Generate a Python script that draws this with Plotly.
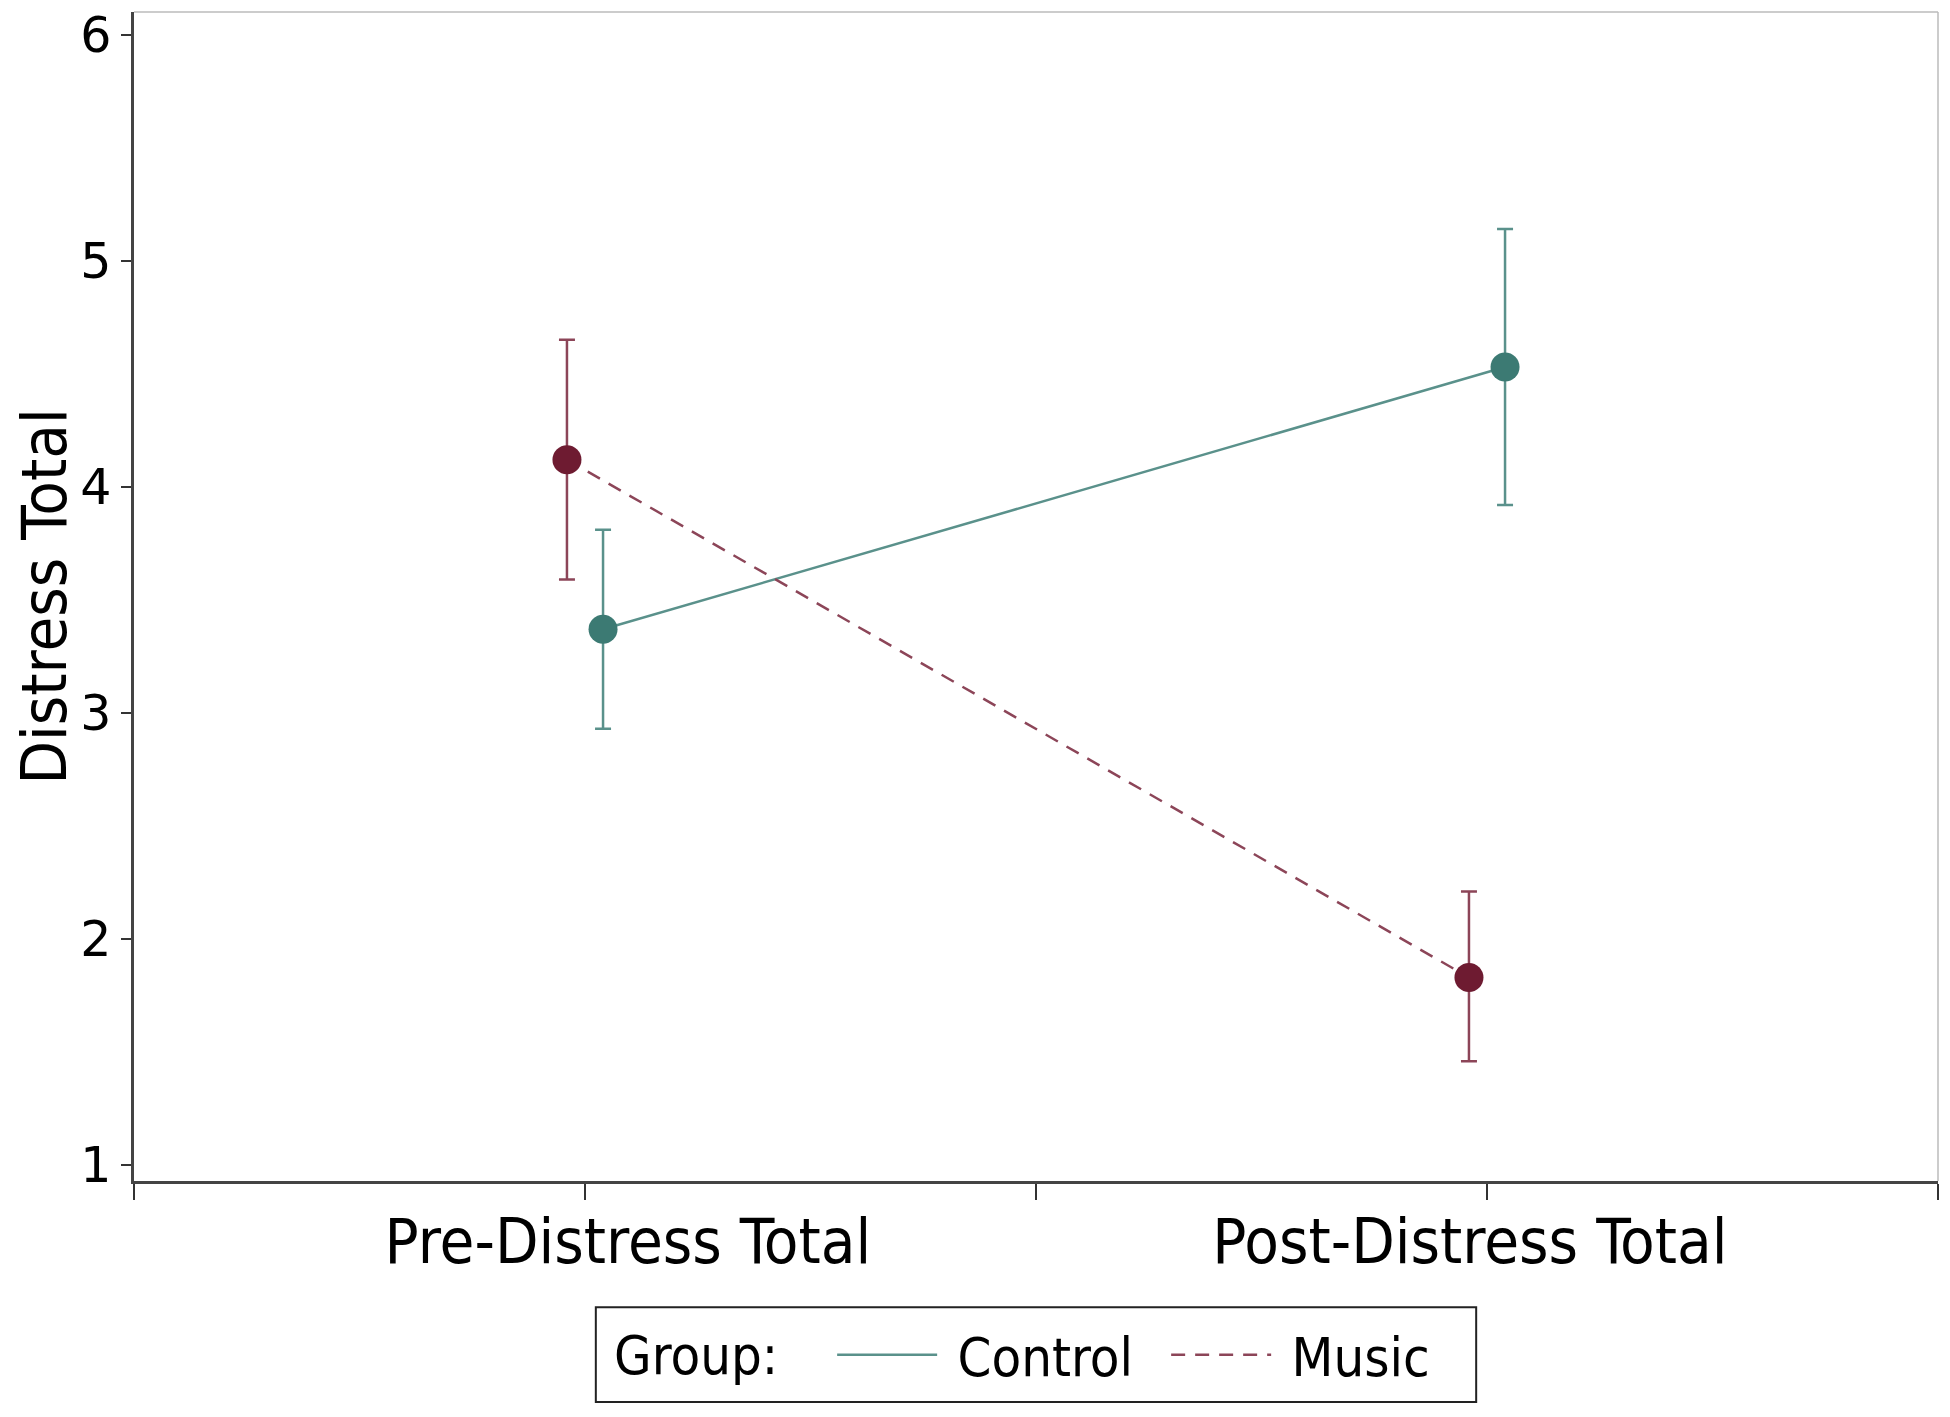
import plotly.graph_objects as go

# moyennes et intervalles de confiance
time_points = ["Pre-Distress Total", "Post-Distress Total"]
control_mean = [3.37, 4.53]
control_upper = [3.81, 5.14]
control_lower = [2.93, 3.92]
music_mean = [4.12, 1.83]
music_upper = [4.65, 2.21]
music_lower = [3.59, 1.46]

y_ticks = [1, 2, 3, 4, 5, 6]

TEAL = "#3c7a73"
TEAL_LIGHT = "#5a918b"
MAROON = "#6e1b31"
MAROON_LIGHT = "#8c4558"
TEXT_FONT = "Liberation Sans Narrow, DejaVu Sans Condensed, sans-serif"

# positions : catégories à 1 et 3, légère séparation entre groupes
base_x = [1 + 2 * i for i in range(len(time_points))]
offset = 0.04


def add_group(fig, name, mean, upper, lower, shift, color, bar_color, dash):
    xs = [b + shift for b in base_x]
    # ligne (seule dans la légende)
    fig.add_trace(go.Scatter(x=xs, y=mean, mode="lines", name=" " + name,
                             line=dict(color=bar_color, width=2.5, dash=dash)))
    # points + barres d'erreur
    fig.add_trace(go.Scatter(
        x=xs, y=mean, mode="markers", showlegend=False,
        marker=dict(color=color, size=29),
        error_y=dict(type="data", symmetric=False,
                     array=[u - m for u, m in zip(upper, mean)],
                     arrayminus=[m - l for m, l in zip(mean, lower)],
                     color=bar_color, thickness=2.5, width=8)))


fig = go.Figure()
add_group(fig, "Control", control_mean, control_upper, control_lower, offset, TEAL, TEAL_LIGHT, "solid")
add_group(fig, "Music", music_mean, music_upper, music_lower, -offset, MAROON, MAROON_LIGHT, "14px,10px")

# trace invisible pour activer l'axe des étiquettes
fig.add_trace(go.Scatter(x=[base_x[0]], y=[None], xaxis="x2", showlegend=False, hoverinfo="skip"))

fig.update_layout(
    width=1950, height=1417,
    paper_bgcolor="white", plot_bgcolor="white",
    margin=dict(l=126, r=20, t=4, b=244, autoexpand=False),
    font=dict(family=TEXT_FONT, color="black"),
    legend=dict(
        orientation="h", x=0.387, xanchor="left", y=-0.149, yanchor="middle",
        font=dict(size=54, family=TEXT_FONT),
        borderwidth=0, bgcolor="rgba(0,0,0,0)", itemwidth=100,
        entrywidth=219, traceorder="normal",
    ),
    xaxis=dict(
        range=[0, 4], tickvals=[0, 1, 2, 3, 4], showticklabels=False,
        ticks="outside", ticklen=16, tickwidth=1.5, tickcolor="#333333",
        showline=True, linecolor="#444444", linewidth=2.5,
        showgrid=False, zeroline=False,
    ),
    xaxis2=dict(
        overlaying="x", range=[0, 4], side="bottom",
        tickvals=[1.095, 2.962], ticktext=time_points,
        showline=False, ticks="", showgrid=False, zeroline=False,
        ticklabelstandoff=18,
        tickfont=dict(size=63, family=TEXT_FONT),
    ),
    yaxis=dict(
        range=[0.93, 6.1], tickvals=y_ticks,
        ticks="outside", ticklen=10, tickwidth=1.5, tickcolor="#333333",
        showline=True, linecolor="#444444", linewidth=2.5,
        showgrid=False, zeroline=False, ticklabeloverflow="allow",
        tickfont=dict(size=49, family="DejaVu Sans"),
        title=dict(text="Distress Total", font=dict(size=63, family=TEXT_FONT), standoff=22),
    ),
)

# cadre gris clair haut / droite
fig.add_shape(type="line", xref="paper", yref="paper", x0=0, x1=1, y0=1, y1=1,
              line=dict(color="#bbbbbb", width=1.5))
fig.add_shape(type="line", xref="paper", yref="paper", x0=1, x1=1, y0=0, y1=1,
              line=dict(color="#bbbbbb", width=1.5))

# boîte de légende et titre du groupe
fig.add_shape(type="rect", xref="paper", yref="paper", x0=0.256, x1=0.744, y0=-0.189, y1=-0.108,
              line=dict(color="#222222", width=2))
fig.add_annotation(text="Group:", xref="paper", yref="paper", x=0.265, y=-0.149,
                   xanchor="left", yanchor="middle", showarrow=False,
                   font=dict(size=54, family=TEXT_FONT))

fig.write_html("out.html")
